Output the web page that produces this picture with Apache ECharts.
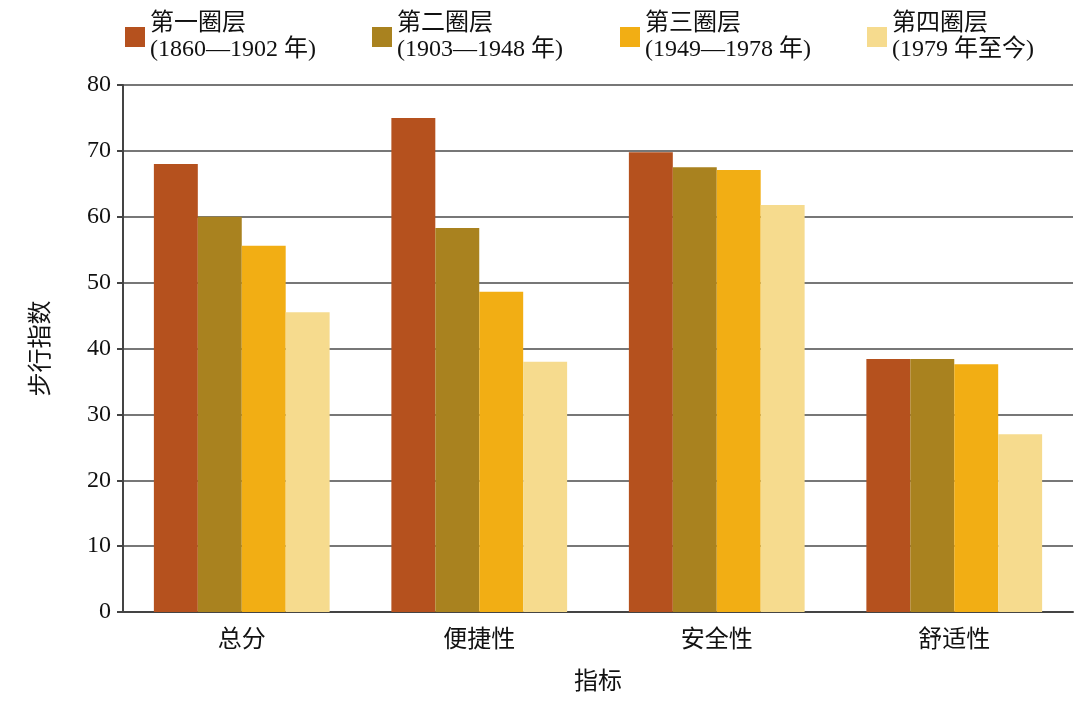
<!DOCTYPE html>
<html><head><meta charset="utf-8">
<script src="https://cdn.jsdelivr.net/npm/echarts@6/dist/echarts.min.js"></script>
<style>html,body{margin:0;background:#fff}#c{width:1080px;height:703px}</style>
</head><body><div id="c"></div>
<script>
const categories=['总分','便捷性','安全性','舒适性'];
const seriesNames=['第一圈层\n(1860—1902 年)','第二圈层\n(1903—1948 年)','第三圈层\n(1949—1978 年)','第四圈层\n(1979 年至今)'];
const s1=[68,75,69.8,38.4];
const s2=[60,58.3,67.5,38.4];
const s3=[55.6,48.6,67.1,37.6];
const s4=[45.5,38,61.8,27];
const colors=['#B5511E','#A9821F','#F2AE14','#F6DB8E'];
const font='"Liberation Serif","Noto Sans CJK SC",serif';
const data=[s1,s2,s3,s4];
const lefts=[120,367,615,862];
const chart=echarts.init(document.getElementById('c'));
chart.setOption({
  textStyle:{fontFamily:font},
  legend:seriesNames.map((n,i)=>({data:[n],left:lefts[i],top:6,itemWidth:20,itemHeight:20,icon:'rect',itemGap:8,
    textStyle:{fontSize:24,lineHeight:26,color:'#111',fontFamily:font}})),
  grid:{left:123,right:7,top:85,bottom:91},
  xAxis:{type:'category',data:categories,name:'指标',nameLocation:'middle',nameGap:56,
    nameTextStyle:{fontSize:24,color:'#111',fontFamily:'"Noto Sans CJK SC"'},
    axisLine:{lineStyle:{color:'#444',width:2}},axisTick:{length:8,lineStyle:{color:'#444',width:2}},
    axisLabel:{fontSize:24,color:'#111',margin:14,fontFamily:'"Noto Sans CJK SC"'}},
  yAxis:{type:'value',min:0,max:80,interval:10,name:'步行指数',nameLocation:'middle',nameGap:72,
    nameTextStyle:{fontSize:24,color:'#111',fontFamily:'"Noto Sans CJK SC"'},
    axisLine:{show:true,lineStyle:{color:'#444',width:2}},axisTick:{show:true,length:6,lineStyle:{color:'#444',width:2}},
    axisLabel:{fontSize:24,color:'#111',margin:12},
    splitLine:{lineStyle:{color:'#777',width:2}}},
  series:data.map((d,i)=>({name:seriesNames[i],type:'bar',data:d,barGap:'0%',barCategoryGap:'26%',
    itemStyle:{color:colors[i]}}))
});
</script></body></html>
